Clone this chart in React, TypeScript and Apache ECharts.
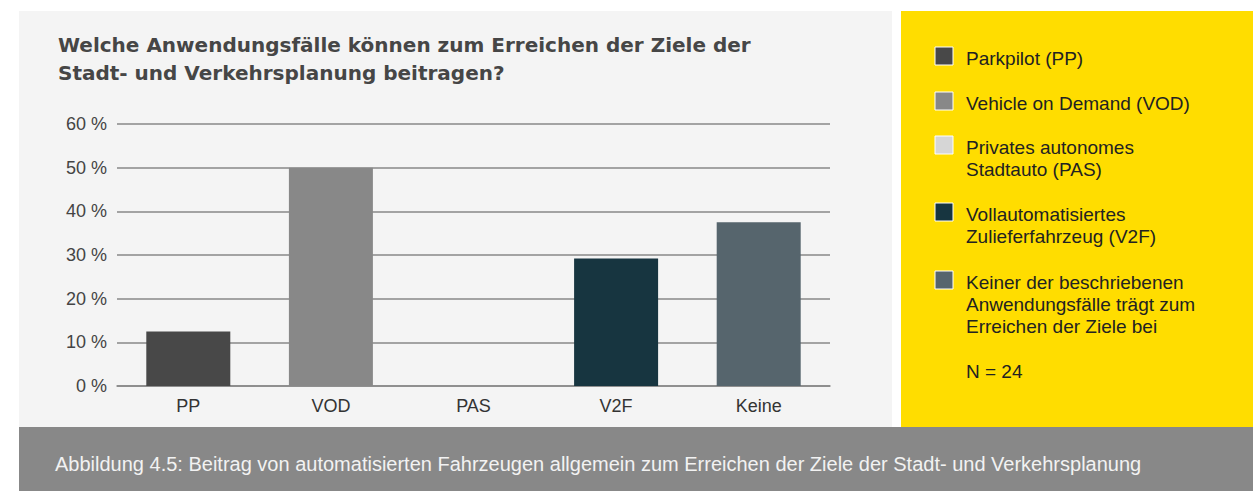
import React, { useEffect, useRef } from "react";
import * as echarts from "echarts";

const categories = ["PP", "VOD", "PAS", "V2F", "Keine"];
const values = [12.5, 50, 0, 29.2, 37.5];
const barColors = ["#484848", "#888888", "#d6d6d6", "#173540", "#56656d"];
const legendLabels = [
  "Parkpilot (PP)",
  "Vehicle on Demand (VOD)",
  "Privates autonomes\nStadtauto (PAS)",
  "Vollautomatisiertes\nZulieferfahrzeug (V2F)",
  "Keiner der beschriebenen\nAnwendungsfälle trägt zum\nErreichen der Ziele bei",
];
const yTicks = [0, 10, 20, 30, 40, 50, 60];
const titleText = "Welche Anwendungsfälle können zum Erreichen der Ziele der\nStadt- und Verkehrsplanung beitragen?";
const noteText = "N = 24";
const captionText =
  "Abbildung 4.5: Beitrag von automatisierten Fahrzeugen allgemein zum Erreichen der Ziele der Stadt- und Verkehrsplanung";

const FONT = "'Liberation Sans', Arial, Helvetica, sans-serif";
const TITLE_FONT = "'DejaVu Sans', 'Liberation Sans', Arial, sans-serif";

export default function App() {
  const ref = useRef<HTMLDivElement>(null);
  useEffect(() => {
    if (!ref.current) return;
    const chart = echarts.init(ref.current, undefined, { renderer: "svg" });

    const legendTops = [47, 92, 136, 203, 271];
    const legendGraphics: any[] = [];
    legendLabels.forEach((lab, i) => {
      legendGraphics.push({
        type: "rect",
        shape: { x: 935, y: legendTops[i], width: 18, height: 18 },
        style: { fill: barColors[i], stroke: "#ffffff", lineWidth: 1 },
        z: 10,
      });
      legendGraphics.push({
        type: "text",
        x: 966,
        y: legendTops[i],
        style: {
          text: lab,
          font: `19px ${FONT}`,
          fill: "#222222",
          lineHeight: 22,
          textVerticalAlign: "top",
        },
        z: 10,
      });
    });

    chart.setOption({
      animation: false,
      graphic: [
        { type: "rect", shape: { x: 19, y: 11, width: 873, height: 416 }, style: { fill: "#f4f4f4" }, z: -10 },
        { type: "rect", shape: { x: 901, y: 11, width: 352, height: 416 }, style: { fill: "#ffdd00" }, z: -10 },
        { type: "rect", shape: { x: 19, y: 427, width: 1234, height: 64 }, style: { fill: "#888888" }, z: -10 },
        {
          type: "text",
          x: 58,
          y: 31,
          style: { text: titleText, font: `bold 20px ${TITLE_FONT}`, fill: "#464646", lineHeight: 28, textVerticalAlign: "top" },
          z: 10,
        },
        ...legendGraphics,
        {
          type: "text",
          x: 966,
          y: 360,
          style: { text: noteText, font: `19px ${FONT}`, fill: "#222222", lineHeight: 22, textVerticalAlign: "top" },
          z: 10,
        },
        {
          type: "text",
          x: 55,
          y: 464,
          style: { text: captionText, font: `20px ${FONT}`, fill: "#f2f2f2", textVerticalAlign: "middle" },
          z: 10,
        },
      ],
      grid: { left: 117, right: 423, top: 124, bottom: 105 },
      xAxis: {
        type: "category",
        data: categories,
        axisLine: { show: true, lineStyle: { color: "#888888", width: 1.5 } },
        axisTick: { show: false },
        axisLabel: { color: "#333333", fontSize: 18, fontFamily: FONT, margin: 11 },
      },
      yAxis: {
        type: "value",
        min: yTicks[0],
        max: yTicks[yTicks.length - 1],
        interval: 10,
        axisLine: { show: false },
        axisTick: { show: false },
        axisLabel: { formatter: "{value} %", color: "#444444", fontSize: 18, fontFamily: FONT, margin: 10 },
        splitLine: { lineStyle: { color: "#888888", width: 1.5 } },
      },
      series: [
        {
          type: "bar",
          barWidth: 84,
          data: values.map((v, i) => ({ value: v, itemStyle: { color: barColors[i] } })),
          z: 3,
        },
      ],
    });
    return () => chart.dispose();
  }, []);
  return (
    <div
      ref={ref}
      style={{ position: "fixed", left: 0, top: 0, width: 1253, height: 491, background: "#ffffff" }}
    />
  );
}
